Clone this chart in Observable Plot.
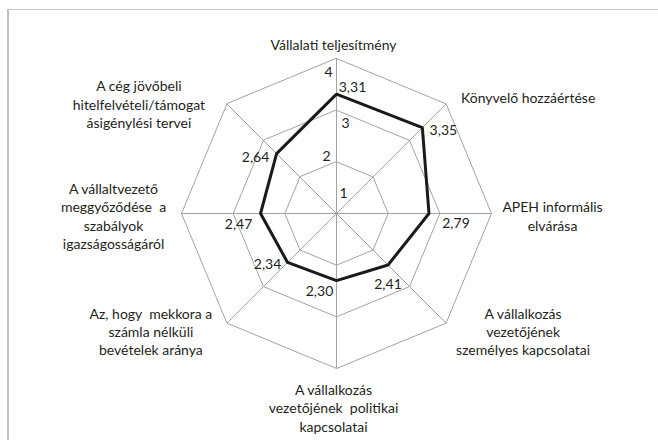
<!DOCTYPE html>
<html>
<head>
<meta charset="utf-8">
<script src="https://cdn.jsdelivr.net/npm/d3@7"></script>
<script src="https://cdn.jsdelivr.net/npm/@observablehq/plot@0.6"></script>
<style>
  html, body { margin: 0; padding: 0; background: #fff; }
  #wrap { position: relative; width: 658px; height: 440px; overflow: hidden; }
  #border { position: absolute; left: 7px; top: 9px; right: -10px; bottom: -10px;
            border-left: 2px solid #bfbfbf; border-top: 1.5px solid #c6c6c6; }
  #chart { position: absolute; left: 0; top: 0; }
</style>
</head>
<body>
<div id="wrap"><div id="border"></div><div id="chart"></div></div>
<script>
// ---- data ----
const categories = [
  "Vállalati teljesítmény",
  "Könyvelő hozzáértése",
  "APEH informális\nelvárása",
  "A vállalkozás\nvezetőjének\nszemélyes kapcsolatai",
  "A vállalkozás\nvezetőjének  politikai\nkapcsolatai",
  "Az, hogy  mekkora a\nszámla nélküli\nbevételek aránya",
  "A vállaltvezető\nmeggyőződése  a\nszabályok\nigazságosságáról",
  "A cég jövőbeli\nhitelfelvételi/támogat\násigénylési tervei"
];
const values = [3.31, 3.35, 2.79, 2.41, 2.30, 2.34, 2.47, 2.64];
const tickValues = [1, 2, 3, 4];
const tickLabels = ["1", "2", "3", "4"];
const ringLevels = [2, 3, 4];

// ---- layout (pixels) ----
const W = 658, H = 440, cx = 336, cy = 213, R = 155;
const vMin = 1, vMax = 4;
const catOffsets = [[-3,-14],[82,-7],[61,2],[77,8],[-3,39],[-76,8],[-68,2],[-88,0]];
const valOffsets = [[16,-7],[21,3],[27,10],[0,20],[-17,11],[-20,2],[-22,11],[-21,4]];
const tickOffsets = [[7,-20],[-10,-5],[9,13],[-8,14]];

const n = categories.length;
const rr = v => (v - vMin) / (vMax - vMin);
const px = (v, i) => rr(v) * Math.sin(i * 2 * Math.PI / n);
const py = (v, i) => rr(v) * Math.cos(i * 2 * Math.PI / n);
const fmt = v => v.toFixed(2).replace(".", ",");

const rings = ringLevels.flatMap(l => categories.map((c, i) => ({level: l, x: px(l, i), y: py(l, i)})));
const spokes = categories.map((c, i) => ({x2: px(vMax, i), y2: py(vMax, i)}));
const series = values.map((v, i) => ({x: px(v, i), y: py(v, i), label: fmt(v), i}));
const cats = categories.map((c, i) => ({c, x: px(vMax, i) + catOffsets[i][0] / R, y: py(vMax, i) - catOffsets[i][1] / R}));
const ticks = tickValues.map((t, k) => ({t: tickLabels[k], x: px(t, 0) + tickOffsets[k][0] / R, y: py(t, 0) - tickOffsets[k][1] / R}));

const font = "Lato, 'Open Sans', sans-serif";
const plot = Plot.plot({
  width: W, height: H,
  margin: 0,
  x: {domain: [-cx / R, (W - cx) / R], range: [0, W], axis: null},
  y: {domain: [-(H - cy) / R, cy / R], range: [H, 0], axis: null},
  style: {fontFamily: font, background: "transparent"},
  marks: [
    Plot.line(rings, {x: "x", y: "y", z: "level", curve: "linear-closed", stroke: "#a3a3a3", strokeWidth: 1}),
    Plot.link(spokes, {x1: 0, y1: 0, x2: "x2", y2: "y2", stroke: "#a3a3a3", strokeWidth: 1}),
    Plot.line(series, {x: "x", y: "y", curve: "linear-closed", stroke: "#1a1a1a", strokeWidth: 3, strokeLinejoin: "miter"}),
    Plot.text(ticks, {x: "x", y: "y", text: "t", fontSize: 14, fill: "#231f20"}),
    Plot.text(series, {x: d => d.x + valOffsets[d.i][0] / R, y: d => d.y - valOffsets[d.i][1] / R, text: "label", fontSize: 14, fill: "#231f20"}),
    Plot.text(cats, {x: "x", y: "y", text: "c", fontSize: 14, lineHeight: 1.32, fill: "#231f20"})
  ]
});
document.getElementById("chart").appendChild(plot);
</script>
</body>
</html>
